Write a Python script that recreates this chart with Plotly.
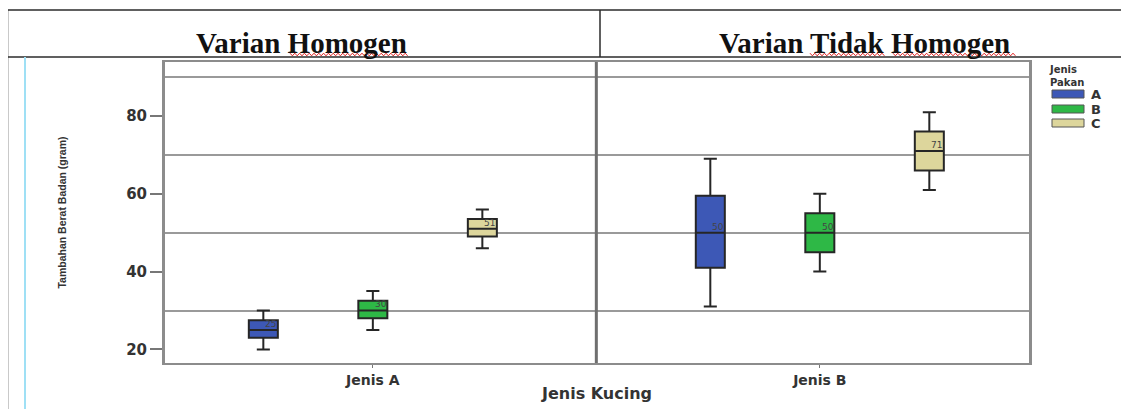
import plotly.graph_objects as go

# ---------------- data ----------------
categories = ["Jenis A", "Jenis B"]
pakan = ["A", "B", "C"]
colors = ["#3D58B6", "#2EB846", "#DDD69C"]
lower_fence = {"A": [20, 31], "B": [25, 40], "C": [46, 61]}
q1 = {"A": [23, 41], "B": [28, 45], "C": [49, 66]}
median = {"A": [25, 50], "B": [30, 50], "C": [51, 71]}
q3 = {"A": [27.5, 59.5], "B": [32.5, 55], "C": [53.5, 76]}
upper_fence = {"A": [30, 69], "B": [35, 60], "C": [56, 81]}
y_ticks = [20, 40, 60, 80]
ref_lines = [30, 50, 70, 90]
panel_titles = ["Varian Homogen", "Varian Tidak Homogen"]

# ---------------- geometry helpers (screen pixels -> paper) ----------------
OFF = 8  # page body margin of the html page
W, H = 1129, 409
L, R, T, B = 165 - OFF, 1029 - OFF, 62 - OFF, 363 - OFF
BOXGAP, BOXGROUPGAP = 0.265, 0.735


def px(x):
    return (x - OFF - L) / (R - L)


def py(y):
    return (B - (y - OFF)) / (B - T)


fig = go.Figure()
for p, c in zip(pakan, colors):
    fig.add_trace(go.Box(
        x=categories, q1=q1[p], median=median[p], q3=q3[p],
        lowerfence=lower_fence[p], upperfence=upper_fence[p],
        name=p, fillcolor=c, line=dict(color="#262626", width=2),
        whiskerwidth=0.45, boxpoints=False,
    ))

shapes = []
# divider between the two panels
shapes.append(dict(type="line", xref="x", yref="paper", x0=0.5, x1=0.5, y0=0, y1=1,
                   line=dict(color="#6f6f6f", width=3)))
# document table lines
tl = dict(color="#2b2b2b", width=1.5)
shapes.append(dict(type="line", xref="paper", yref="paper", x0=px(7), x1=px(1140), y0=py(10), y1=py(10), line=tl))
shapes.append(dict(type="line", xref="paper", yref="paper", x0=px(7), x1=px(1140), y0=py(57), y1=py(57), line=tl))
shapes.append(dict(type="line", xref="paper", yref="paper", x0=px(600), x1=px(600), y0=py(10), y1=py(57), line=tl))
shapes.append(dict(type="line", xref="paper", yref="paper", x0=px(7.5), x1=px(7.5), y0=py(10), y1=py(420), line=tl))
shapes.append(dict(type="line", xref="paper", yref="paper", x0=px(25), x1=px(25), y0=py(57), y1=py(420),
                   line=dict(color="#9fe0f5", width=2)))


def zigzag(x0, x1, y, amp=1.3, step=2.4):
    pts, x, up = [], x0, True
    while x <= x1:
        pts.append(f"{px(x):.5f},{py(y - amp if up else y + amp):.5f}")
        up = not up
        x += step
    return "M " + " L ".join(pts)


for (a, b) in [(290, 408), (810, 886), (893, 1017)]:
    shapes.append(dict(type="path", xref="paper", yref="paper", path=zigzag(a, b, 54.5),
                       line=dict(color="#e02020", width=1)))

annotations = []
for t, cx in zip(panel_titles, [301, 864]):
    annotations.append(dict(text=f"<b>{t}</b>", xref="paper", yref="paper", x=px(cx), y=py(43),
                            xanchor="center", yanchor="middle", showarrow=False,
                            font=dict(family="Liberation Serif", size=29, color="#111")))

# small value labels next to each median
for k, p in enumerate(pakan):
    offset = (k - 1) * (1 - BOXGAP) / 3
    for i, cat in enumerate(categories):
        annotations.append(dict(text=f"{median[p][i]}", xref="x", yref="y",
                                x=i + offset, y=median[p][i] + 1.6,
                                xanchor="left", yanchor="middle", showarrow=False,
                                font=dict(family="DejaVu Sans", size=9, color="#444")))

# legend (drawn manually, wide swatches like the original)
annotations.append(dict(text="<b>Jenis<br>Pakan</b>", xref="paper", yref="paper", x=px(1047), y=py(62),
                        xanchor="left", yanchor="top", align="left", showarrow=False,
                        font=dict(family="DejaVu Sans", size=10, color="#333")))
for p, c, yy in zip(pakan, colors, [90, 105, 119]):
    shapes.append(dict(type="rect", xref="paper", yref="paper", x0=px(1052), x1=px(1084),
                       y0=py(yy), y1=py(yy + 8), fillcolor=c, line=dict(color="#555", width=1)))
    annotations.append(dict(text=f"<b>{p}</b>", xref="paper", yref="paper", x=px(1089), y=py(yy + 4),
                            xanchor="left", yanchor="middle", showarrow=False,
                            font=dict(family="DejaVu Sans", size=13, color="#333")))

fig.update_layout(
    width=W, height=H,
    margin=dict(l=L, r=W - R, t=T, b=H - B, autoexpand=False),
    boxmode="group", boxgap=BOXGAP, boxgroupgap=BOXGROUPGAP,
    plot_bgcolor="white", paper_bgcolor="white",
    showlegend=False,
    font=dict(family="DejaVu Sans", color="#333"),
    shapes=shapes, annotations=annotations,
    xaxis=dict(type="category", range=[-0.465, 1.468], showline=True, mirror=True,
               automargin=False,
               linecolor="#8c8c8c", linewidth=2, ticks="outside", ticklen=3,
               tickcolor="#777", tickfont=dict(size=14, family="DejaVu Sans", weight="bold"),
               showgrid=False,
               title=dict(text="<b>Jenis Kucing</b>", font=dict(size=16), standoff=1)),
    yaxis=dict(range=[16.5, 93.9], tickmode="array", tickvals=y_ticks, ticks="outside",
               automargin=False,
               ticklen=12, tickcolor="#777", tickwidth=1.5,
               tickfont=dict(size=15, family="DejaVu Sans", weight="bold"),
               showgrid=False, zeroline=False, showline=True, mirror=True,
               linecolor="#8c8c8c", linewidth=3,
               minor=dict(tickmode="array", tickvals=ref_lines, showgrid=True,
                          gridcolor="#9a9a9a", gridwidth=1.5, ticks=""),
               title=dict(text="<b>Tambahan Berat Badan (gram)</b>",
                          font=dict(size=10.5, family="Liberation Sans"), standoff=58)),
)

fig.write_html("out.html")
